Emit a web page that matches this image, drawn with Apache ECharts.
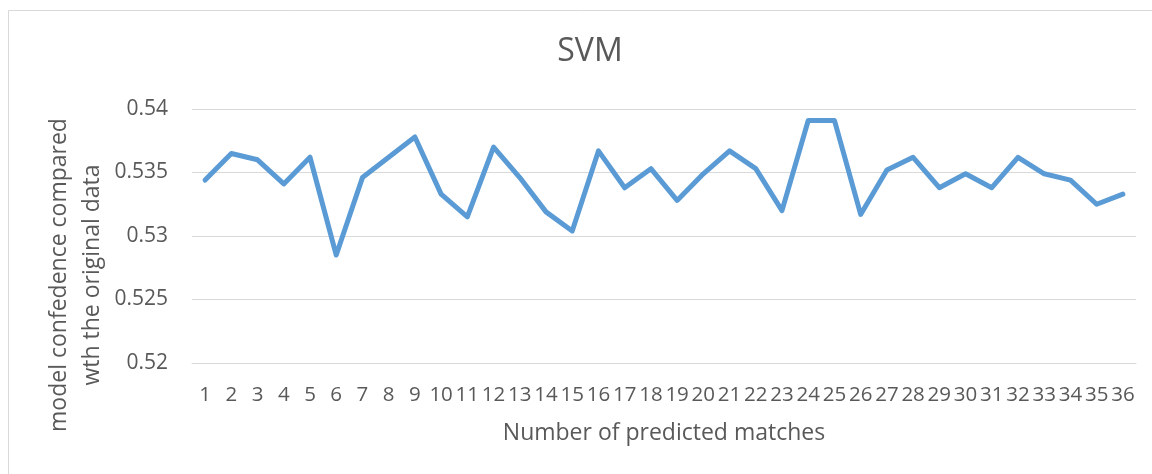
<!DOCTYPE html>
<html>
<head>
<meta charset="utf-8">
<script src="https://cdn.jsdelivr.net/npm/echarts@6/dist/echarts.min.js"></script>
<style>
  html, body { margin: 0; padding: 0; background: #fff; }
  #chart { width: 1152px; height: 474px; }
</style>
</head>
<body>
<div id="chart"></div>
<script>
const categories = ["1","2","3","4","5","6","7","8","9","10","11","12","13","14","15","16","17","18",
  "19","20","21","22","23","24","25","26","27","28","29","30","31","32","33","34","35","36"];
const confidence = [0.5344, 0.5365, 0.5360, 0.5341, 0.5362, 0.5285, 0.5346, 0.5362, 0.5378, 0.5333,
  0.5315, 0.5370, 0.5346, 0.5319, 0.5304, 0.5367, 0.5338, 0.5353, 0.5328, 0.5349,
  0.5367, 0.5353, 0.5320, 0.5391, 0.5391, 0.5317, 0.5352, 0.5362, 0.5338, 0.5349,
  0.5338, 0.5362, 0.5349, 0.5344, 0.5325, 0.5333];
const yTicks = [0.52, 0.525, 0.53, 0.535, 0.54];

const font = "Open Sans";
const textColor = "#595959";
const gridColor = "#d9d9d9";

const chart = echarts.init(document.getElementById("chart"));
const option = {
  animation: false,
  title: {
    text: "SVM",
    left: 585,
    textAlign: "center",
    top: 31,
    textStyle: { fontFamily: font, fontSize: 32, fontWeight: "normal", color: textColor }
  },
  graphic: [
    {
      type: "rect",
      shape: { x: 8.5, y: 10.5, width: 1170, height: 480 },
      style: { fill: "none", stroke: gridColor, lineWidth: 1 },
      silent: true
    },
    {
      type: "text",
      x: 76,
      y: 275,
      rotation: Math.PI / 2,
      style: {
        text: "model confedence compared\nwth the original data",
        fontFamily: font,
        fontSize: 23,
        lineHeight: 33,
        fill: textColor,
        align: "center",
        verticalAlign: "middle"
      }
    }
  ],
  grid: { left: 192, right: 16, top: 109, bottom: 111 },
  xAxis: {
    type: "category",
    data: categories,
    axisTick: { show: false },
    axisLine: { show: true, lineStyle: { color: gridColor, width: 1 } },
    axisLabel: { interval: 0, margin: 22, fontFamily: font, fontSize: 20.5, color: textColor },
    name: "Number of predicted matches",
    nameLocation: "middle",
    nameGap: 59,
    nameTextStyle: { fontFamily: font, fontSize: 23, color: textColor }
  },
  yAxis: {
    type: "value",
    min: yTicks[0],
    max: yTicks[yTicks.length - 1],
    interval: yTicks[1] - yTicks[0],
    axisLine: { show: false },
    axisTick: { show: false },
    axisLabel: {
      margin: 24,
      fontFamily: font,
      fontSize: 21,
      color: textColor,
      formatter: function (v) { return String(parseFloat(v.toFixed(3))); }
    },
    splitLine: { lineStyle: { color: gridColor, width: 1 } }
  },
  series: [
    {
      type: "line",
      data: confidence,
      showSymbol: false,
      lineStyle: { color: "#5b9bd5", width: 5, cap: "round", join: "round" }
    }
  ]
};
chart.setOption(option);
</script>
</body>
</html>
